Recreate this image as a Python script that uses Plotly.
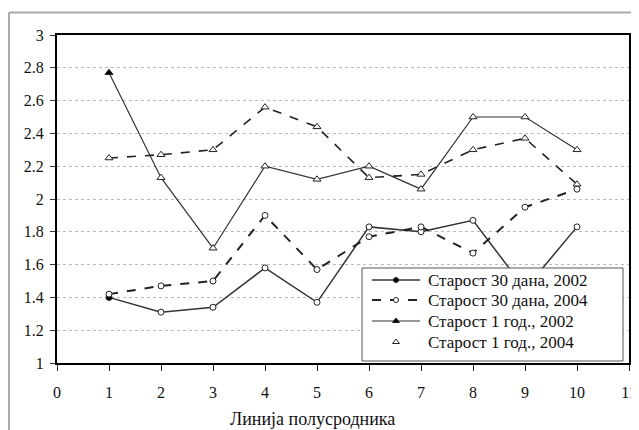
import plotly.graph_objects as go

x_lines = [1, 2, 3, 4, 5, 6, 7, 8, 9, 10]

d30_2002 = [1.40, 1.31, 1.34, 1.58, 1.37, 1.83, 1.80, 1.87, 1.45, 1.83]
d30_2004 = [1.42, 1.47, 1.50, 1.90, 1.57, 1.77, 1.83, 1.67, 1.95, 2.06]
y1_2002 = [2.77, 2.13, 1.70, 2.20, 2.12, 2.20, 2.06, 2.50, 2.50, 2.30]
y1_2004 = [2.25, 2.27, 2.30, 2.56, 2.44, 2.13, 2.15, 2.30, 2.37, 2.09]

names = ["Старост 30 дана, 2002", "Старост 30 дана, 2004",
         "Старост 1 год., 2002", "Старост 1 год., 2004"]

x_ticks = list(range(0, 12))
y_ticks = [1, 1.2, 1.4, 1.6, 1.8, 2, 2.2, 2.4, 2.6, 2.8, 3]

FONT = "Liberation Serif"
INK = "#111111"

styles = [
    (dict(color="#333333", width=1.5),
     dict(symbol="circle", size=6, color="black", line=dict(color="#222222", width=1))),
    (dict(color="#222222", width=2, dash="dash"),
     dict(symbol="circle", size=6, color="white", line=dict(color="#222222", width=1))),
    (dict(color="#333333", width=1.2),
     dict(symbol="triangle-up", size=7, color="black", line=dict(color="#222222", width=1))),
    (dict(color="#222222", width=1.6, dash="dash"),
     dict(symbol="triangle-up", size=7, color="white", line=dict(color="#222222", width=1))),
]
legend_has_line = [True, True, True, False]
series = [d30_2002, d30_2004, y1_2002, y1_2004]

fig = go.Figure()

for i, (vals, (ln, mk)) in enumerate(zip(series, styles)):
    mk_plot = dict(mk)
    if i in (0, 2):   # first point drawn filled, others hollow (as in the scan)
        mk_plot["color"] = ["black"] + ["white"] * (len(vals) - 1)
    fig.add_trace(go.Scatter(
        x=x_lines, y=vals, name=names[i], mode="lines+markers",
        line=ln, marker=mk_plot, showlegend=False,
    ))

# ---- page-pixel overlay for the legend block ----
OX, OY = 8, 8
W, H = 639 - OX, 430 - OY
PL, PR, PT, PB = 57, 629, 35, 363
pw, ph = PR - PL, PB - PT

LB = dict(x0=362, x1=623, y0=268, y1=361)
row_y = [280, 300, 321, 342]
sym_x0, sym_x1, txt_x = 372, 420, 426

fig.add_trace(go.Scatter(
    x=[LB["x0"], LB["x1"], LB["x1"], LB["x0"], LB["x0"]],
    y=[LB["y0"], LB["y0"], LB["y1"], LB["y1"], LB["y0"]],
    xaxis="x2", yaxis="y2", mode="lines", fill="toself",
    fillcolor="white", line=dict(color="#555555", width=1),
    hoverinfo="skip", showlegend=False,
))
for i, (ln, mk) in enumerate(styles):
    if legend_has_line[i]:
        fig.add_trace(go.Scatter(
            x=[sym_x0, sym_x1], y=[row_y[i], row_y[i]],
            xaxis="x2", yaxis="y2", mode="lines", line=ln,
            hoverinfo="skip", showlegend=False,
        ))
    mk_leg = dict(mk)
    mk_leg["size"] = mk["size"] - 1
    fig.add_trace(go.Scatter(
        x=[(sym_x0 + sym_x1) / 2], y=[row_y[i]],
        xaxis="x2", yaxis="y2", mode="markers", marker=mk_leg,
        hoverinfo="skip", showlegend=False,
    ))

annotations = [
    dict(text=names[i], xref="x2", yref="y2", x=txt_x, y=row_y[i],
         xanchor="left", yanchor="middle", showarrow=False,
         font=dict(family=FONT, size=17, color=INK))
    for i in range(4)
]
annotations.append(
    dict(text="Линија полусродника", xref="paper", yref="paper",
         x=(312 - PL) / pw, y=(PB - 419) / ph,
         xanchor="center", yanchor="middle", showarrow=False,
         font=dict(family=FONT, size=18, color=INK))
)

fig.update_layout(
    width=W, height=H,
    margin=dict(l=PL - OX, r=W - (PR - OX), t=PT - OY, b=H - (PB - OY)),
    paper_bgcolor="white", plot_bgcolor="white",
    font=dict(family=FONT, size=16, color=INK),
    showlegend=False,
    xaxis=dict(
        range=[0, 11], tickvals=x_ticks, ticktext=[str(v) for v in x_ticks],
        showgrid=False, zeroline=False, automargin=False,
        showline=True, linecolor="black", linewidth=2, mirror=True,
        ticks="outside", ticklen=6, tickcolor="#333333", tickwidth=1,
        ticklabelstandoff=8,
        tickfont=dict(family=FONT, size=16, color=INK),
    ),
    yaxis=dict(
        range=[1, 3], tickvals=y_ticks, ticktext=[f"{v:g}" for v in y_ticks],
        showgrid=True, gridcolor="#bbbbbb", griddash="dot", gridwidth=1,
        zeroline=False, automargin=False,
        showline=True, linecolor="black", linewidth=2, mirror=True,
        ticks="outside", ticklen=5, tickcolor="#333333", tickwidth=1,
        ticklabelstandoff=3,
        tickfont=dict(family=FONT, size=16, color=INK),
    ),
    xaxis2=dict(overlaying="x", range=[PL, PR], visible=False,
                fixedrange=True, automargin=False),
    yaxis2=dict(overlaying="y", range=[PB, PT], visible=False,
                fixedrange=True, automargin=False),
    shapes=[
        dict(type="line", xref="paper", yref="paper",
             x0=(9 - PL) / pw, x1=(650 - PL) / pw,
             y0=(PB - 12.5) / ph, y1=(PB - 12.5) / ph,
             line=dict(color="#aaaaaa", width=2)),
        dict(type="line", xref="paper", yref="paper",
             x0=(9 - PL) / pw, x1=(9 - PL) / pw,
             y0=(PB - 12.5) / ph, y1=(PB - 440) / ph,
             line=dict(color="#aaaaaa", width=2)),
    ],
    annotations=annotations,
)

fig.write_html("out.html")
